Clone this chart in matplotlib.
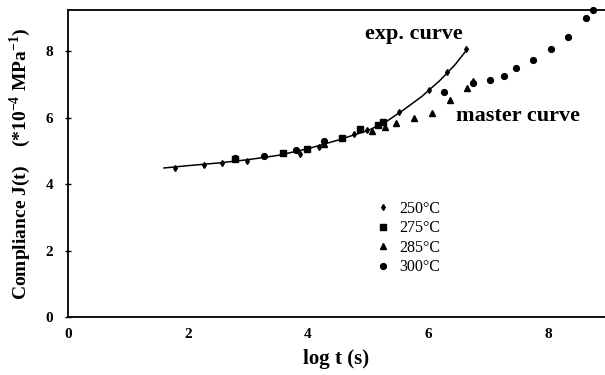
import matplotlib
matplotlib.use("Agg")
import matplotlib.pyplot as plt

plt.rcParams['font.family'] = ['Liberation Serif', 'DejaVu Serif']
plt.rcParams['mathtext.fontset'] = 'custom'
plt.rcParams['mathtext.rm'] = 'Liberation Serif'
plt.rcParams['mathtext.bf'] = 'Liberation Serif:bold'

# exp. curve
curve_x = [1.60, 2.0, 2.5, 3.0, 3.5, 4.0, 4.5, 5.0, 5.3, 5.6, 5.9, 6.2, 6.45, 6.66]
curve_y = [4.49, 4.56, 4.64, 4.74, 4.87, 5.07, 5.33, 5.62, 5.88, 6.25, 6.65, 7.13, 7.60, 8.08]

t250_x = [1.79, 2.26, 2.56, 2.98, 3.87, 4.18, 4.76, 4.98, 5.51, 6.01, 6.32, 6.63]
t250_y = [4.49, 4.57, 4.65, 4.70, 4.92, 5.12, 5.50, 5.64, 6.17, 6.85, 7.38, 8.07]

t275_x = [2.79, 3.58, 3.99, 4.57, 4.86, 5.16, 5.25]
t275_y = [4.75, 4.95, 5.07, 5.40, 5.66, 5.79, 5.87]

t285_x = [4.27, 5.07, 5.29, 5.47, 5.76, 6.07, 6.36, 6.65, 6.75]
t285_y = [5.22, 5.60, 5.71, 5.84, 6.00, 6.16, 6.55, 6.89, 7.12]

t300_x = [2.79, 3.27, 3.80, 4.27, 6.27, 6.75, 7.04, 7.27, 7.46, 7.75, 8.05, 8.34, 8.64, 8.75]
t300_y = [4.78, 4.85, 5.04, 5.31, 6.79, 7.05, 7.14, 7.26, 7.49, 7.73, 8.07, 8.43, 9.01, 9.25]

xticks = [0, 2, 4, 6, 8]
yticks = [0, 2, 4, 6, 8]

fig = plt.figure(figsize=(6.05, 3.75), dpi=100)
ax = fig.add_axes([0.1124, 0.1547, 0.8876, 0.8186])

ax.plot(curve_x, curve_y, color='black', lw=1.1, zorder=2)
ax.plot(t250_x, t250_y, linestyle='none', marker='d', ms=3, color='black', label='250°C', zorder=3)
ax.plot(t275_x, t275_y, linestyle='none', marker='s', ms=4.2, color='black', label='275°C', zorder=3)
ax.plot(t285_x, t285_y, linestyle='none', marker='^', ms=4.2, color='black', label='285°C', zorder=3)
ax.plot(t300_x, t300_y, linestyle='none', marker='o', ms=4.2, color='black', label='300°C', zorder=3, clip_on=False)

ax.set_xlim(0, 8.95)
ax.set_ylim(0, 9.25)
ax.set_xticks(xticks)
ax.set_yticks(yticks)
ax.set_xticklabels([str(v) for v in xticks], fontweight='bold', fontsize=11)
ax.set_yticklabels([str(v) for v in yticks], fontweight='bold', fontsize=11)
ax.tick_params(axis='y', direction='inout', length=5, width=1, pad=8)
ax.tick_params(axis='x', direction='in', length=0, pad=8)
ax.spines['right'].set_visible(False)
for s in ['left', 'bottom', 'top']:
    ax.spines[s].set_linewidth(1.3)

ax.set_xlabel('log t (s)', fontweight='bold', fontsize=15, labelpad=6)
ax.set_ylabel(r'Compliance J(t)    (*10$^{\mathbf{-4}}$ MPa$^{\mathbf{-1}}$)', fontweight='bold', fontsize=14, labelpad=9)

ax.text(4.95, 8.52, 'exp. curve', fontweight='bold', fontsize=16, va='center', ha='left')
ax.text(6.47, 6.05, 'master curve', fontweight='bold', fontsize=16, va='center', ha='left')

leg = ax.legend(loc='upper left', bbox_to_anchor=(0.563, 0.40), frameon=False,
                handlelength=0.8, handletextpad=0.6, labelspacing=0.22, fontsize=11.5,
                borderaxespad=0)

fig.savefig('out.png', dpi=100)
